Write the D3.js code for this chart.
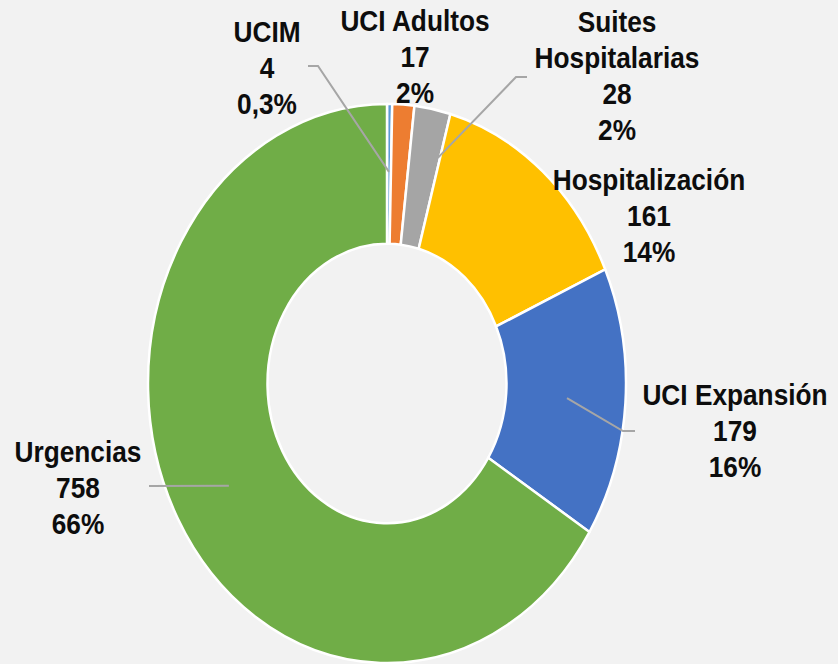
<!DOCTYPE html>
<html><head><meta charset="utf-8">
<script src="https://cdn.jsdelivr.net/npm/d3@7"></script>
<style>
html,body{margin:0;padding:0;background:#F2F2F2;}
svg{display:block;}
text{font-family:"Liberation Sans Narrow","Arial Narrow","Liberation Sans",Arial,sans-serif;font-weight:bold;fill:#0D0D0D;}
</style></head><body>
<script>
const categories = ["UCIM","UCI Adultos","Suites Hospitalarias","Hospitalización","UCI Expansión","Urgencias"];
const values = [4,17,28,161,179,758];
const percentLabels = ["0,3%","2%","2%","14%","16%","66%"];
const colors = ["#5B9BD5","#ED7D31","#A5A5A5","#FFC000","#4472C4","#70AD47"];

const W=838,H=664;
const cx=387, cy=383.5, ry=279.5, rx=239;
const sx = rx/ry;
const svg=d3.select("body").append("svg").attr("width",W).attr("height",H);
svg.append("rect").attr("width",W).attr("height",H).attr("fill","#F2F2F2");

const pie=d3.pie().sort(null).value(d=>d)(values);
const arc=d3.arc().innerRadius(ry*0.5).outerRadius(ry);
const g=svg.append("g").attr("transform",`translate(${cx},${cy}) scale(${sx},1)`);
g.selectAll("path").data(pie).join("path")
  .attr("d",arc).attr("fill",(d,i)=>colors[i])
  .attr("stroke","#fff").attr("stroke-width",2.5)
  .attr("vector-effect","non-scaling-stroke");

// label layout: center x, first baseline y, line names
const layout=[
  {x:267,y:42,name:["UCIM"]},
  {x:415,y:31,name:["UCI Adultos"]},
  {x:617,y:32,name:["Suites","Hospitalarias"]},
  {x:649,y:190,name:["Hospitalización"]},
  {x:735,y:405,name:["UCI Expansión"]},
  {x:78,y:462,name:["Urgencias"]}
];
const lh=36;
const narrow = 0.875;
layout.forEach((L,i)=>{
  const lines=[...L.name, String(values[i]), percentLabels[i]];
  const t=svg.append("text").attr("text-anchor","middle").attr("font-size",30)
    .attr("transform",`translate(${L.x},0) scale(${narrow},1)`);
  lines.forEach((s,k)=>t.append("tspan").attr("x",0).attr("y",L.y+k*lh).text(s));
});

// leader lines: anchor inside slice (angle fraction within slice, radius fraction)
function pt(i,af,rf){
  const d=pie[i];
  const a=d.startAngle+(d.endAngle-d.startAngle)*af;
  return [cx+rx*rf*Math.sin(a), cy-ry*rf*Math.cos(a)];
}
const leaders=[
  {i:0,af:0.5,rf:0.757,pts:[[308,66],[318,66]]},
  {i:2,af:0.93,rf:0.835,pts:[[527,77],[516,77]]},
  {i:4,af:0.5,rf:0.755,pts:[[635,431],[623,431]]},
  {i:5,af:0.5,rf:0.756,pts:[[149,486]]}
];
leaders.forEach(Ld=>{
  const p=[...Ld.pts, pt(Ld.i,Ld.af,Ld.rf)];
  svg.append("path").attr("d",d3.line()(p)).attr("fill","none")
    .attr("stroke","#A6A6A6").attr("stroke-width",2);
});
</script>
</body></html>
